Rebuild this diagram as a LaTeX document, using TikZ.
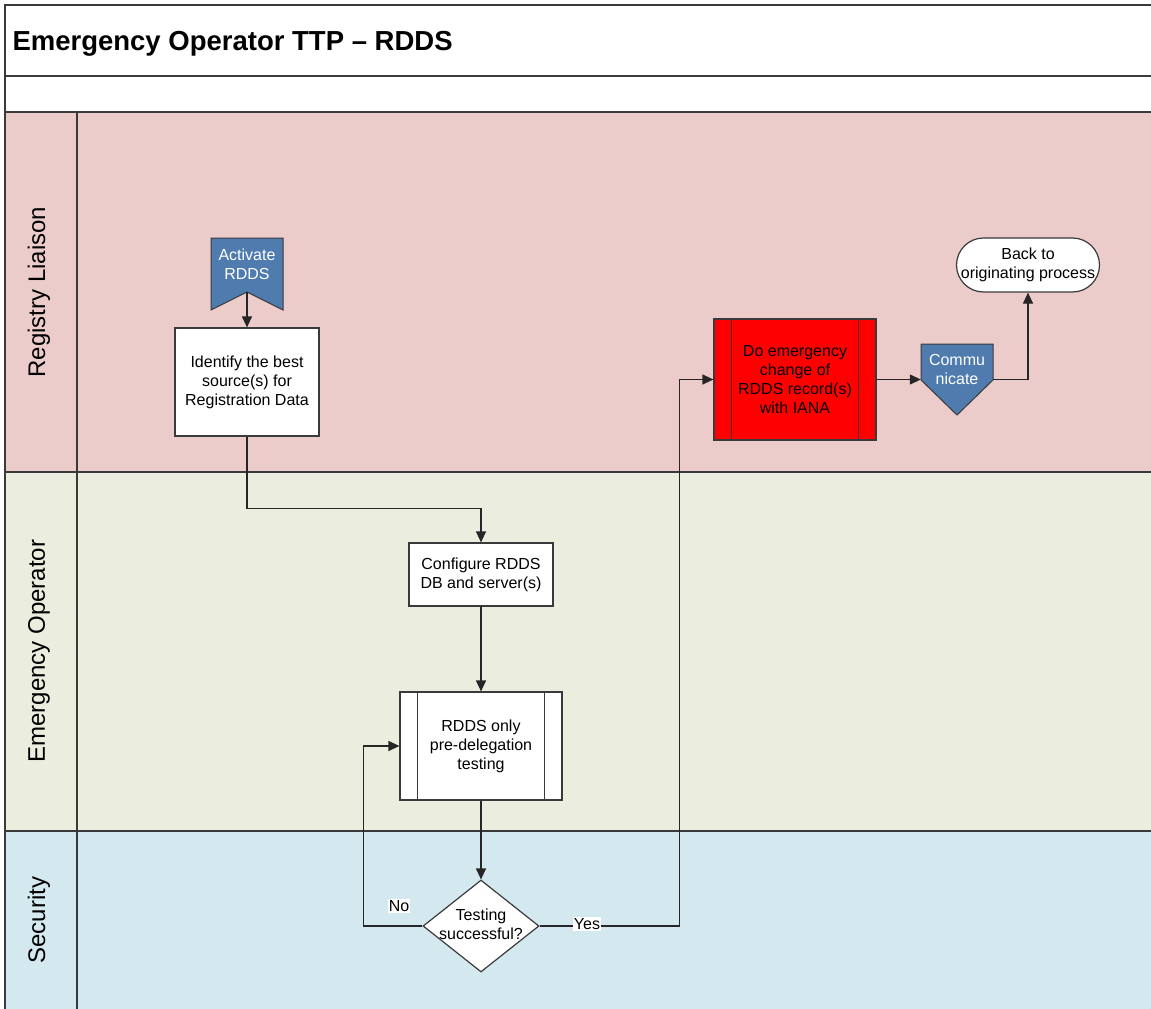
\documentclass[tikz,border=0pt]{standalone}
\usepackage{fontspec}
\setmainfont{Liberation Sans}
\usetikzlibrary{shapes.geometric,arrows.meta}
\definecolor{liaison}{HTML}{EBCCCB}
\definecolor{operator}{HTML}{EBEDDF}
\definecolor{security}{HTML}{D3E9EF}
\definecolor{flagblue}{HTML}{4F7BAE}
\definecolor{framegray}{HTML}{3A3A3A}
\begin{document}
\begin{tikzpicture}[x=1pt,y=-1pt,>={Triangle[length=11pt,width=10pt]},
	every node/.style={font=\fontsize{16}{19}\selectfont,align=center},
	lanelabel/.style={rotate=90,font=\fontsize{24}{28}\selectfont},
	task/.style={draw=framegray,fill=white,line width=1.2pt,inner sep=0pt,minimum width=144pt},
	flagtext/.style={text=white,minimum width=72pt,inner sep=0pt},
	terminal/.style={draw=framegray,fill=white,line width=1.2pt,rounded corners=27pt,minimum width=143pt,minimum height=54pt,inner sep=0pt},
	decision/.style={draw=framegray,fill=white,line width=1.2pt,diamond,minimum width=116pt,minimum height=92pt,inner sep=0pt},
	tag/.style={fill=white,inner sep=1pt},
	flow/.style={->,line width=1.2pt,draw=black!85},
	lane/.style={line width=1.6pt,draw=framegray}]

	\useasboundingbox (0,0) rectangle (1151,1009);

	% lanes
	\fill[white] (5,5) rectangle (1151,112);
	\fill[liaison] (5,112) rectangle (1151,472);
	\fill[operator] (5,472) rectangle (1151,831);
	\fill[security] (5,831) rectangle (1151,1009);
	\draw[lane] (1151,5) -- (5,5) -- (5,1009);
	\draw[lane] (5,76) -- (1151,76);
	\draw[lane] (5,112) -- (1151,112);
	\draw[lane] (5,472) -- (1151,472);
	\draw[lane] (5,831) -- (1151,831);
	\draw[lane] (77,112) -- (77,1009);

	\node (title) [anchor=base west,font=\fontsize{27.5}{32}\selectfont\bfseries] at (9,50) {Emergency Operator TTP \textendash{} RDDS};
	\node (laneliaison) [lanelabel] at (39,292) {Registry Liaison};
	\node (laneoperator) [lanelabel] at (39,651) {Emergency Operator};
	\node (lanesecurity) [lanelabel] at (39,920) {Security};

	% registry liaison
	\filldraw[fill=flagblue,draw=framegray,line width=1pt] (211,238) -- (283,238) -- (283,310) -- (247,292) -- (211,310) -- cycle;
	\node (activate) [flagtext] at (247,264) {Activate\\RDDS};
	\coordinate (activatenotch) at (247,292);

	\node (identify) [task,minimum height=108pt] at (247,382) {Identify the best\\source(s) for\\Registration Data};

	\node (change) [task,fill=red,minimum width=162pt,minimum height=121pt] at (795,379.5) {Do emergency\\change of\\RDDS record(s)\\with IANA};
	\draw[line width=1.2pt,draw=framegray] ([xshift=18pt]change.north west) -- ([xshift=18pt]change.south west);
	\draw[line width=1.2pt,draw=framegray] ([xshift=-18pt]change.north east) -- ([xshift=-18pt]change.south east);

	\filldraw[fill=flagblue,draw=framegray,line width=1pt] (921,344) -- (993,344) -- (993,380) -- (957,415) -- (921,380) -- cycle;
	\node (communicate) [flagtext] at (957,369) {Commu\\nicate};

	\node (back) [terminal] at (1028,265) {Back to\\originating process};

	% emergency operator
	\node (configure) [task,minimum height=63pt] at (481,574.5) {Configure RDDS\\DB and server(s)};
	\node (testing) [task,minimum width=162pt,minimum height=108pt] at (481,746) {RDDS only\\pre-delegation\\testing};
	\draw[line width=1.2pt,draw=framegray] ([xshift=18pt]testing.north west) -- ([xshift=18pt]testing.south west);
	\draw[line width=1.2pt,draw=framegray] ([xshift=-18pt]testing.north east) -- ([xshift=-18pt]testing.south east);

	% security
	\node (check) [decision] at (481,926) {};
	\node (checktext) at (481,924) {Testing\\successful?};

	% flows
	\draw[flow] (activatenotch) -- (identify.north);
	\draw[flow] (identify.south) -- ++(0,72) -| (configure.north);
	\draw[flow] (configure.south) -- (testing.north);
	\draw[flow] (testing.south) -- (check.north);
	\draw[flow] (check.west) -- ++(-59,0) |- (testing.west);
	\draw[flow] (check.east) -- ++(140,0) |- (change.west);
	\draw[flow] (change.east) -- (change.east -| communicate.west);
	\draw[flow] (change.east -| communicate.east) -| (back.south);

	\node (nolabel) [tag] at (399,906) {No};
	\node (yeslabel) [tag] at (587,924) {Yes};

\end{tikzpicture}
\end{document}
